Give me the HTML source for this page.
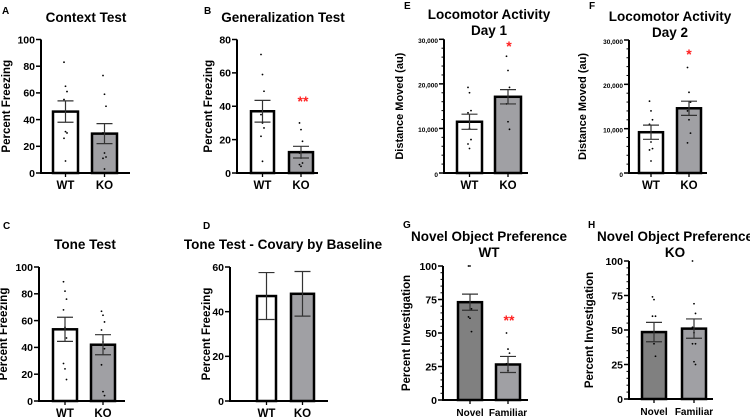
<!DOCTYPE html>
<html><head><meta charset="utf-8"><style>
body{margin:0;background:#fff;width:750px;height:417px;overflow:hidden}
svg{display:block;font-family:"Liberation Sans",Arial,sans-serif;font-weight:bold}
</style></head><body>
<svg id="fig" width="750" height="417"></svg>
<script>
// Panel data
const catsA=["WT","KO"], meanA=[46,29.5], semA=[8,7.5], ptsA=[[83,65,61,55,31,30,26,9],[73,59,50,30,15,12,11,3]], ticksA=[0,20,40,60,80,100];
const catsB=["WT","KO"], meanB=[37,12.5], semB=[6.5,3.5], ptsB=[[71,59,49,35,30,27,22,7],[30,26,19,12,9,6,5,4]], ticksB=[0,20,40,60,80];
const catsC=["WT","KO"], meanC=[53.5,42], semC=[9,7.5], ptsC=[[89,82,76,68,55,47,28,24,16],[67,64,59,53,44,39,27,7,4]], ticksC=[0,20,40,60,80,100];
const catsD=["WT","KO"], meanD=[47,48], semD=[10.5,10], ptsD=[[],[]], ticksD=[0,20,40,60];
const catsE=["WT","KO"], meanE=[11500,17100], semE=[1700,1600], ptsE=[[19200,18000,14000,13500,10000,7500,6500,5500],[26200,23000,19200,15500,11500,9800]], ticksE=[0,10000,20000,30000];
const catsF=["WT","KO"], meanF=[9200,14600], semF=[1600,1600], ptsF=[[16200,14000,12000,11000,7000,5500,5200,2700],[23800,18200,16000,14000,12000,9000,6800]], ticksF=[0,10000,20000,30000];
const catsG=["Novel","Familiar"], meanG=[73,26.5], semG=[6,6], ptsG=[[100,100,68,62,61,51],[50,38,35,27,22]], ticksG=[0,25,50,75,100];
const catsH=["Novel","Familiar"], meanH=[48.5,51], semH=[7,7], ptsH=[[74,72,60,60,40,31],[100,69,62,52,48,40,40,27,25]], ticksH=[0,25,50,75,100];

const NS="http://www.w3.org/2000/svg", svg=document.getElementById("fig");
function mk(tag,at,parent,txt){const e=document.createElementNS(NS,tag);for(const k in at)e.setAttribute(k,at[k]);if(txt!==undefined)e.textContent=txt;(parent||svg).appendChild(e);return e;}
const fmt=v=>v>=1000?v.toLocaleString("en-US"):String(v);

function panel(o){
  const g=mk("g",{});
  
  
  const ymax=o.ticks[o.ticks.length-1];
  const y=v=>o.y0-(v/ymax)*(o.y0-o.y1);
  const l=mk("text",{x:o.lx,y:o.ly,"font-size":10},g,o.letter);
  
  
  o.title.forEach((t,i)=>{const e=mk("text",{x:o.tx,y:o.ty+i*16,"font-size":13.5,"text-anchor":"middle"},g,t);
    
    });
  const yl=mk("text",{x:0,y:0,"font-size":o.ylfs||11.5,"text-anchor":"middle",transform:`translate(${o.ylx},${(o.y0+o.y1)/2}) rotate(-90)`},g,o.ylabel);
  
  
  o.mean.forEach((m,i)=>{
    const [x0,x1]=o.bars[i];
    const r=mk("rect",{x:x0,y:y(m),width:x1-x0,height:o.y0-y(m),fill:o.fills[i],stroke:"#000","stroke-width":2.5},g);
    
    
    const cx=(x0+x1)/2;
    o.pts[i].forEach((p,j)=>{const c=mk("circle",{cx:cx+((j%3)-1)*1.5,cy:y(p),r:0.9,fill:"#000"},g);
      
      });
    const e1=y(m+o.sem[i]),e2=y(m-o.sem[i]);
    const eb=mk("path",{d:`M${cx},${e1}V${e2}M${cx-8},${e1}H${cx+8}M${cx-8},${e2}H${cx+8}`,stroke:"#333","stroke-width":1.2,fill:"none"},g);
    
    
    const ct=mk("text",{x:cx,y:o.y0+16,"font-size":o.cfs||11.5,"text-anchor":"middle"},g,o.cats[i]);
    
    
    mk("line",{x1:cx,x2:cx,y1:o.y0,y2:o.y0+4,stroke:"#000","stroke-width":1.3},g);
  });
  const ax=mk("path",{d:`M${o.ax},${o.y1}V${o.y0}H${o.axEnd}`,stroke:"#000","stroke-width":2,fill:"none"},g);
  
  
  if(o.minor){for(let v=0;v<=ymax;v+=o.minor){mk("line",{x1:o.ax-2.5,x2:o.ax,y1:y(v),y2:y(v),stroke:"#000","stroke-width":1},g);}}
  o.ticks.forEach(t=>{
    mk("line",{x1:o.ax-5,x2:o.ax,y1:y(t),y2:y(t),stroke:"#000","stroke-width":1.5},g);
    const tl=mk("text",{x:o.ax-6,y:y(t)+3.8,"font-size":o.tfs||10.5,"text-anchor":"end"},g,fmt(t));
    
    
  });
  if(o.star){const s=mk("text",{x:o.star[0],y:o.star[1],"font-size":14,fill:"#ff2020","text-anchor":"middle"},g,o.star[2]);
    
    }
}
const W="#fff",K="#a0a0a4";
panel({name:"panel-a-context-test",letter:"A",lx:2,ly:14,title:["Context Test"],tx:86,ty:22,ylabel:"Percent Freezing",ylx:10,y0:173,y1:39.5,ax:41,axEnd:130,bars:[[53,78],[92,117]],fills:[W,K],cats:catsA,mean:meanA,sem:semA,pts:ptsA,ticks:ticksA});
panel({name:"panel-b-generalization-test",letter:"B",lx:204,ly:14,title:["Generalization Test"],tx:283,ty:22,ylabel:"Percent Freezing",ylx:212,y0:173,y1:39.5,ax:237,axEnd:318,bars:[[251,274],[289,313]],fills:[W,K],cats:catsB,mean:meanB,sem:semB,pts:ptsB,ticks:ticksB,star:[303,106,"**"]});
panel({name:"panel-e-locomotor-day1",letter:"E",lx:404,ly:9,title:["Locomotor Activity","Day 1"],tx:489,ty:19,ylabel:"Distance Moved (au)",ylx:403,y0:173,y1:39.3,ax:444,axEnd:528,bars:[[457,482],[495,521]],fills:[W,K],cats:catsE,mean:meanE,sem:semE,pts:ptsE,ticks:ticksE,minor:2000,tfs:6.5,ylfs:11,star:[509,51,"*"]});
panel({name:"panel-f-locomotor-day2",letter:"F",lx:589,ly:9,title:["Locomotor Activity","Day 2"],tx:670,ty:21,ylabel:"Distance Moved (au)",ylx:586,y0:173,y1:40,ax:629,axEnd:707,bars:[[639,663],[677,701]],fills:[W,K],cats:catsF,mean:meanF,sem:semF,pts:ptsF,ticks:ticksF,minor:2000,tfs:6.5,ylfs:11,star:[689,59,"*"]});
panel({name:"panel-c-tone-test",letter:"C",lx:3,ly:229,title:["Tone Test"],tx:85,ty:249,ylabel:"Percent Freezing",ylx:7,y0:401,y1:267,ax:39,axEnd:125,bars:[[53,77],[91,115]],fills:[W,K],cats:catsC,mean:meanC,sem:semC,pts:ptsC,ticks:ticksC});
panel({name:"panel-d-tone-covary",letter:"D",lx:203,ly:229,title:["Tone Test - Covary by Baseline"],tx:283,ty:249,ylabel:"Percent Freezing",ylx:210,y0:401,y1:267,ax:230,axEnd:328,bars:[[257,276],[291,314]],fills:[W,K],cats:catsD,mean:meanD,sem:semD,pts:ptsD,ticks:ticksD});
panel({name:"panel-g-nop-wt",letter:"G",lx:403,ly:228,title:["Novel Object Preference","WT"],tx:489,ty:241,ylabel:"Percent Investigation",ylx:410,y0:400,y1:266,ax:443,axEnd:528,bars:[[458,482],[496,520]],fills:["#808080",K],cats:catsG,mean:meanG,sem:semG,pts:ptsG,ticks:ticksG,minor:5,cfs:10,star:[509,325,"**"]});
panel({name:"panel-h-nop-ko",letter:"H",lx:588,ly:228,title:["Novel Object Preference","KO"],tx:675,ty:241,ylabel:"Percent Investigation",ylx:593,y0:399,y1:261,ax:629,axEnd:713,bars:[[642,666],[682,706]],fills:["#808080",K],cats:catsH,mean:meanH,sem:semH,pts:ptsH,ticks:ticksH,minor:5,cfs:10});
</script>
</body></html>
